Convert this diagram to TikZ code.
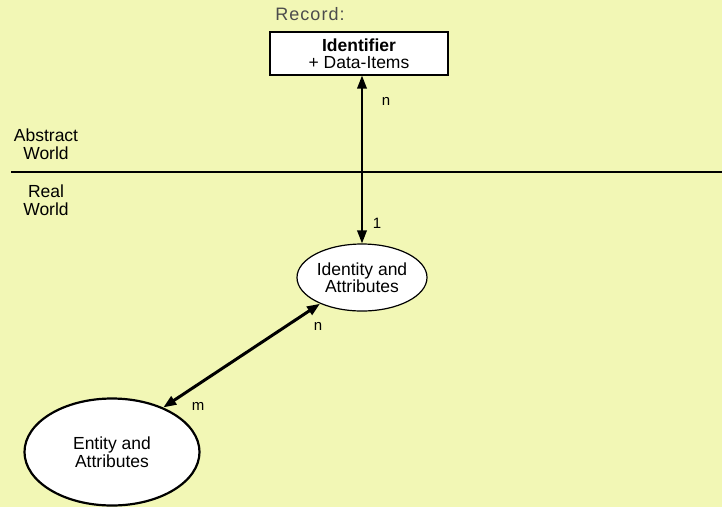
\documentclass[tikz,border=0pt]{standalone}
\usepackage{fontspec}
\setmainfont{Liberation Sans}
\usepackage{tikz}
\usetikzlibrary{arrows.meta,calc,positioning,shapes.geometric}
\definecolor{paleyellow}{rgb}{0.95,0.97,0.71}
\definecolor{recordgray}{rgb}{0.30,0.30,0.30}
\tikzset{
  recbox/.style={
    draw=black,
    fill=white,
    line width=1.2pt,
    align=center,
    minimum width=178pt,
    minimum height=43pt,
    inner sep=2pt,
    font=\fontsize{17.5}{17.5}\selectfont
  },
  ovalo/.style={
    ellipse,
    draw=black,
    fill=white,
    line width=1.2pt,
    align=center,
    inner sep=0pt,
    font=\fontsize{17.5}{17.5}\selectfont
  },
  mundo/.style={
    align=center,
    inner sep=0pt,
    font=\fontsize{17.5}{17.5}\selectfont
  },
  card/.style={
    inner sep=0pt,
    font=\fontsize{15}{15}\selectfont
  },
  arrow/.style={
    {Triangle[length=13pt,width=9.5pt]}-{Triangle[length=13pt,width=9.5pt]},
    line width=2pt,
    black
  }
}
\begin{document}
\begin{tikzpicture}[x=1pt,y=-1pt]
\fill[paleyellow] (0,0) rectangle (722,507);
\useasboundingbox (0,0) rectangle (722,507);
\node[inner sep=0pt, text=recordgray, font=\fontsize{18}{16}\selectfont\addfontfeatures{LetterSpace=6}] (rlbl) at (310,14) {Record:};
\node[recbox] (rec) at (359,53.5) {\textbf{Identifier}\\+ Data-Items};
\node[ovalo, minimum width=130pt, minimum height=67pt] (ident) at (362,277.5) {Identity and\\Attributes};
\node[ovalo, line width=2.2pt, minimum width=175pt, minimum height=107pt] (ent) at (112,452) {Entity and\\Attributes};
\node[mundo] (abs) at (46,144) {Abstract\\World};
\node[mundo] (real) at (46,200) {Real\\World};
\coordinate (lineL) at (11,172);
\coordinate (lineR) at (722,172);
\draw[line width=2pt] (lineL) -- (lineR);
\draw[arrow] (rec.south -| ident.north) -- (ident.north);
\draw[arrow, line width=3pt] (ident.212) -- (ent.41);
\node[card] (nTop) at (386,101) {n};
\node[card] (uno) at (377,223) {1};
\node[card] (nMid) at (318,326) {n};
\node[card] (mLow) at (198,406) {m};
\end{tikzpicture}
\end{document}
